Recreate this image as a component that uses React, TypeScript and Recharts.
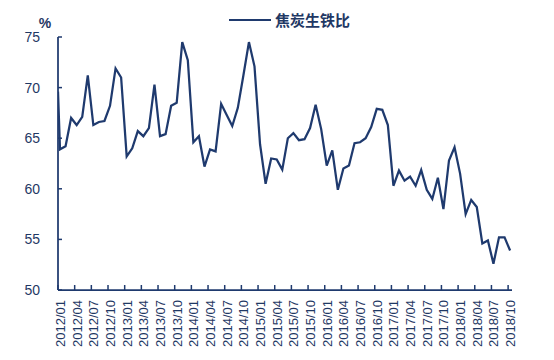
import { Label, Line, LineChart, XAxis, YAxis } from 'recharts'

const NAVY = '#1f3a6e'
const TEXT = '#1f3864'

const SERIES_NAME = '焦炭生铁比'
const UNIT = '%'

const TICK_LABELS = [
  '2012/01', '2012/04', '2012/07', '2012/10',
  '2013/01', '2013/04', '2013/07', '2013/10',
  '2014/01', '2014/04', '2014/07', '2014/10',
  '2015/01', '2015/04', '2015/07', '2015/10',
  '2016/01', '2016/04', '2016/07', '2016/10',
  '2017/01', '2017/04', '2017/07', '2017/10',
  '2018/01', '2018/04', '2018/07', '2018/10',
]

const Y_TICKS = [50, 55, 60, 65, 70, 75]

// value at the very start of the axis, before the first monthly reading
const START_VALUE = 69.6
// monthly readings are dated mid-month, a bit after the month tick
const MONTH_OFFSET = 0.36

// 2012/01 .. 2018/10
const VALUES = [
  63.9, 64.2, 67.0, 66.3, 67.1, 71.2, 66.3, 66.6, 66.7, 68.2, 71.9, 71.0,
  63.2, 64.0, 65.7, 65.2, 66.0, 70.3, 65.2, 65.4, 68.2, 68.5, 74.5, 72.7,
  64.6, 65.2, 62.2, 63.9, 63.7, 68.4, 67.3, 66.2, 68.0, 71.2, 74.5, 72.1,
  64.4, 60.5, 63.0, 62.9, 61.9, 65.0, 65.5, 64.8, 64.9, 66.0, 68.3, 65.9,
  62.3, 63.8, 59.9, 62.0, 62.3, 64.5, 64.6, 65.0, 66.1, 67.9, 67.8, 66.3,
  60.3, 61.8, 60.8, 61.2, 60.3, 61.85, 59.9, 59.0, 61.1, 58.0, 62.8, 64.1,
  61.5, 57.5, 58.9, 58.2, 54.6, 54.9, 52.6, 55.2, 55.2, 53.9,
]

const data = [
  { t: 0, v: START_VALUE },
  ...VALUES.map((v, i) => ({ t: i + MONTH_OFFSET, v })),
]

const xTicks = TICK_LABELS.map((_, i) => i * 3)

function XTick(props: any) {
  const { x, y, payload } = props
  const label = TICK_LABELS[Math.round(payload.value / 3)]
  return (
    <g>
      <line x1={x} y1={y} x2={x} y2={y - 5} stroke={NAVY} strokeWidth={1.5} />
      <text
        x={x + 2.5}
        y={y + 10}
        transform={`rotate(-90, ${x + 2.5}, ${y + 10})`}
        textAnchor="end"
        dominantBaseline="central"
        fill={TEXT}
        fontSize={13}
        fontFamily="Liberation Sans, Arial, sans-serif"
      >
        {label}
      </text>
    </g>
  )
}

function YTick(props: any) {
  const { x, y, payload } = props
  return (
    <g>
      <line x1={x} y1={y} x2={x + 4} y2={y} stroke={NAVY} strokeWidth={1.5} />
      <text
        x={x - 18}
        y={y}
        textAnchor="end"
        dominantBaseline="central"
        fill={TEXT}
        fontSize={14}
        fontFamily="Liberation Sans, Arial, sans-serif"
      >
        {payload.value}
      </text>
    </g>
  )
}

export default function App() {
  return (
    <div style={{ position: 'absolute', left: 0, top: 0, width: 554, height: 360, background: '#fff' }}>
      <LineChart width={554} height={360} data={data} margin={{ top: 37, right: 42, bottom: 0, left: 0 }}>
        <XAxis
          dataKey="t"
          type="number"
          domain={[0, 81.7]}
          ticks={xTicks}
          interval={0}
          allowDataOverflow
          tick={XTick}
          tickLine={false}
          tickSize={0}
          tickMargin={0}
          axisLine={{ stroke: NAVY, strokeWidth: 1.75 }}
          height={70}
        />
        <YAxis
          domain={[50, 75]}
          ticks={Y_TICKS}
          interval={0}
          width={58}
          tick={YTick}
          tickLine={false}
          tickSize={0}
          tickMargin={0}
          axisLine={{ stroke: NAVY, strokeWidth: 1.75 }}
        >
          <Label
            content={(p: any) => (
              <text
                x={p.viewBox.x + p.viewBox.width - 13}
                y={p.viewBox.y - 14}
                textAnchor="middle"
                dominantBaseline="central"
                fill={TEXT}
                fontSize={14}
                fontWeight="bold"
                fontFamily="Liberation Sans, Arial, sans-serif"
              >
                {UNIT}
              </text>
            )}
          />
        </YAxis>
        <Line
          type="linear"
          dataKey="v"
          stroke={NAVY}
          strokeWidth={2.25}
          dot={false}
          isAnimationActive={false}
        />
      </LineChart>
      <div
        style={{
          position: 'absolute',
          left: 229,
          top: 9,
          height: 22,
          display: 'flex',
          alignItems: 'center',
        }}
      >
        <span style={{ display: 'inline-block', width: 42, height: 2, background: NAVY }} />
        <span
          style={{
            marginLeft: 4,
            color: TEXT,
            fontSize: 15,
            fontWeight: 'bold',
            fontFamily: '"Noto Sans CJK SC", sans-serif',
            lineHeight: '22px',
          }}
        >
          {SERIES_NAME}
        </span>
      </div>
    </div>
  )
}
